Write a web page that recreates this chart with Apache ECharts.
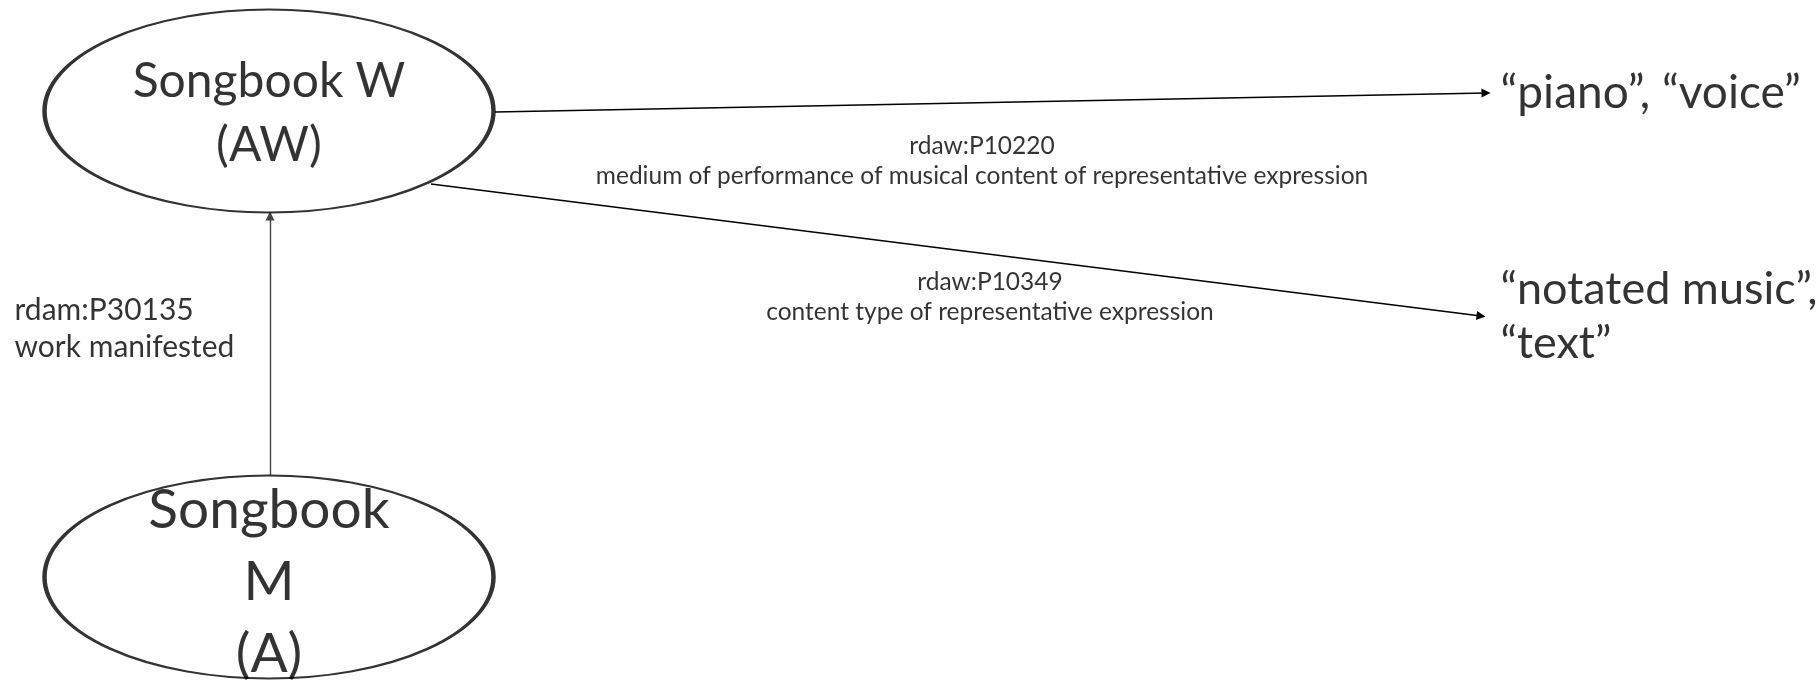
<!DOCTYPE html>
<html>
<head>
<meta charset="utf-8">
<script src="https://cdn.jsdelivr.net/npm/echarts@6/dist/echarts.min.js"></script>
<style>
  html, body { margin: 0; padding: 0; background: #fff; }
  #main { width: 1816px; height: 681px; }
</style>
</head>
<body>
<div id="main"></div>
<script>
// diagram frame is 1816 x 681, y grows downwards
var entityNames = ['Songbook W\n(AW)', 'Songbook\nM\n(A)'];
var entityX = [269, 269];
var entityY = [111, 577];

var literalNames = ['“piano”, “voice”', '“notated music”,\n“text”'];
var literalX = [1500, 1500];
var literalY = [93, 316];

// relationship arrows: from -> to
var edgeFromX = [495, 431, 270];
var edgeFromY = [112, 184, 475];
var edgeToX = [1486, 1481, 270];
var edgeToY = [93, 316, 216];

var edgeLabels = [
  'rdaw:P10220\nmedium of performance of musical content of representative expression',
  'rdaw:P10349\ncontent type of representative expression',
  'rdam:P30135\nwork manifested'
];
var edgeLabelX = [982, 990, 14];
var edgeLabelY = [161, 297, 329];

var chart = echarts.init(document.getElementById('main'));

var entityData = [];
for (var i = 0; i < entityNames.length; i++) {
  entityData.push({ name: entityNames[i], value: [entityX[i], entityY[i]] });
}
var literalData = [];
for (var i = 0; i < literalNames.length; i++) {
  literalData.push({ name: literalNames[i], value: [literalX[i], literalY[i]] });
}
var edgeData = [];
for (var i = 0; i < edgeFromX.length; i++) {
  edgeData.push({
    coords: [[edgeFromX[i], edgeFromY[i]], [edgeToX[i], edgeToY[i]]],
    lineStyle: { color: i === 2 ? '#444' : '#000' }
  });
}
var labelData = [];
for (var i = 0; i < edgeLabels.length; i++) {
  labelData.push({
    name: edgeLabels[i],
    value: [edgeLabelX[i], edgeLabelY[i]],
    label: i === 2
      ? { position: 'right', distance: 0, align: 'left', fontSize: 30, lineHeight: 37 }
      : { position: 'inside', align: 'center', fontSize: 24.5, lineHeight: 30 }
  });
}

var option = {
  backgroundColor: '#ffffff',
  animation: false,
  grid: { left: 0, right: 0, top: 0, bottom: 0 },
  xAxis: { type: 'value', min: 0, max: 1816, show: false },
  yAxis: { type: 'value', min: 0, max: 681, inverse: true, show: false },
  series: [
    {
      type: 'lines',
      coordinateSystem: 'cartesian2d',
      symbol: ['none', 'triangle'],
      symbolSize: [0, 9],
      lineStyle: { width: 1.4, opacity: 1, curveness: 0 },
      z: 1,
      data: edgeData
    },
    {
      type: 'scatter',
      symbol: 'circle',
      symbolSize: [449, 203],
      itemStyle: { color: '#fff', borderColor: '#000', borderWidth: 3 },
      label: {
        show: true,
        position: 'inside',
        formatter: '{b}',
        color: '#000',
        fontFamily: 'Lato',
        fontSize: 48,
        lineHeight: 64,
        offset: [0, 3]
      },
      z: 2,
      data: [
        entityData[0],
        {
          name: entityData[1].name,
          value: entityData[1].value,
          label: { fontSize: 55, lineHeight: 72, offset: [0, 5] }
        }
      ]
    },
    {
      type: 'scatter',
      symbolSize: 1,
      itemStyle: { color: 'rgba(0,0,0,0)' },
      label: {
        show: true,
        position: 'right',
        distance: 0,
        align: 'left',
        formatter: '{b}',
        color: '#000',
        fontFamily: 'Lato',
        fontSize: 45,
        lineHeight: 54
      },
      z: 3,
      data: [
        { name: literalData[0].name, value: literalData[0].value, label: { fontSize: 46 } },
        literalData[1]
      ]
    },
    {
      type: 'scatter',
      symbolSize: 1,
      itemStyle: { color: 'rgba(0,0,0,0)' },
      label: {
        show: true,
        formatter: '{b}',
        color: '#000',
        fontFamily: 'Lato'
      },
      z: 3,
      data: labelData
    }
  ]
};

chart.setOption(option);
</script>
</body>
</html>
